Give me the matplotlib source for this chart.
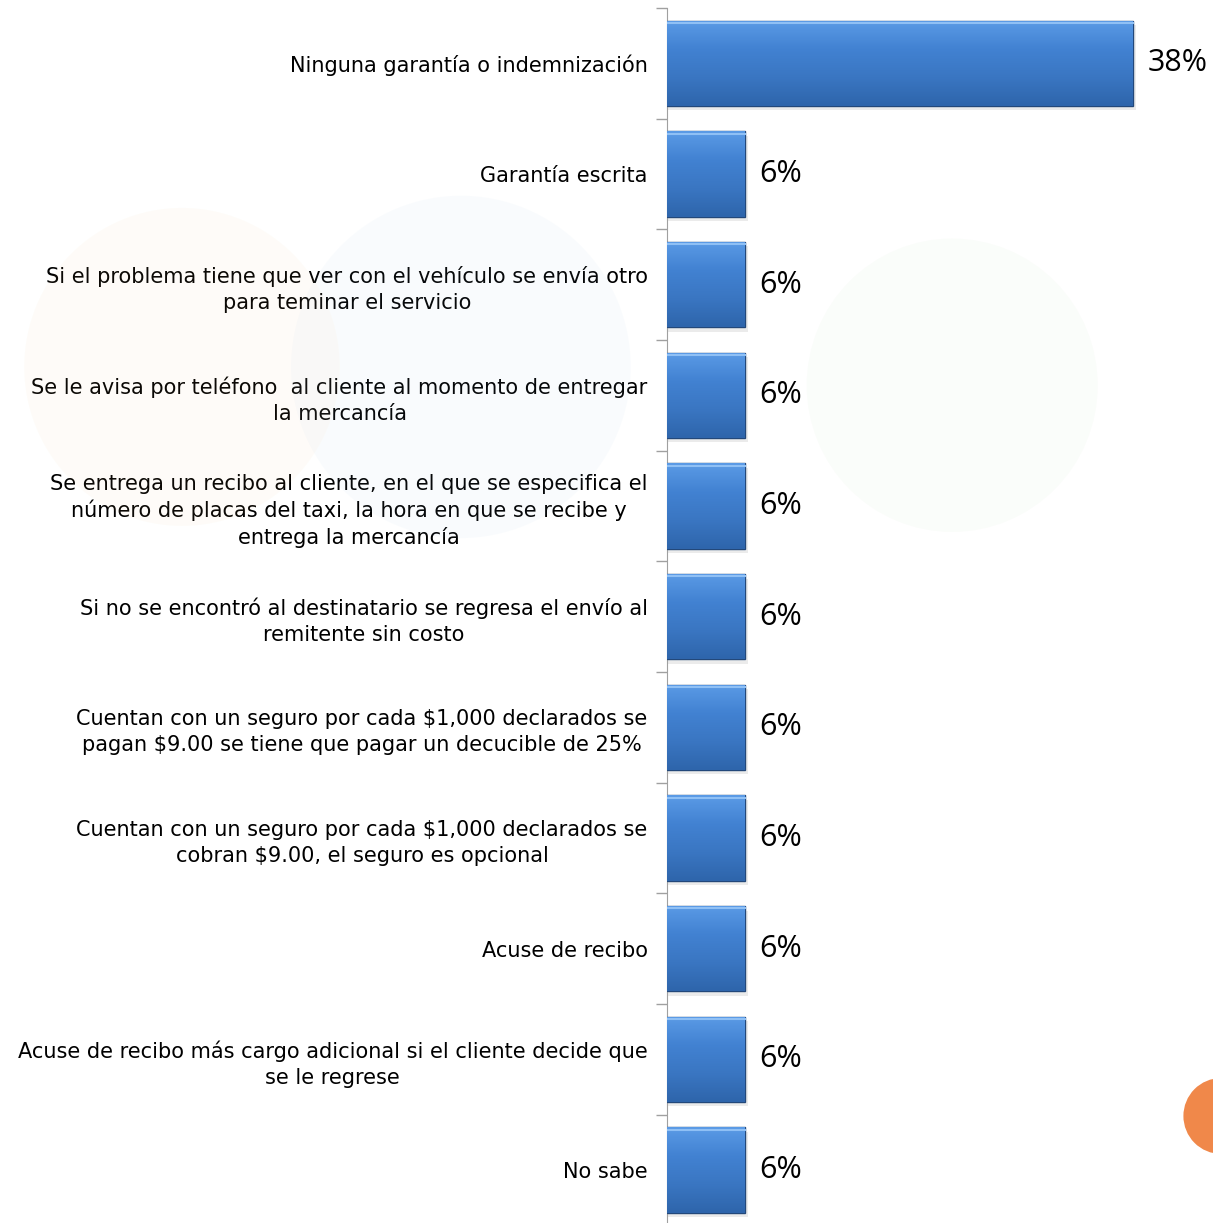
import numpy as np
import matplotlib.pyplot as plt
from matplotlib.patches import Circle
from matplotlib.colors import LinearSegmentedColormap

categorias = [
    "Ninguna garantía o indemnización",
    "Garantía escrita",
    "Si el problema tiene que ver con el vehículo se envía otro\npara teminar el servicio",
    "Se le avisa por teléfono  al cliente al momento de entregar\nla mercancía",
    "Se entrega un recibo al cliente, en el que se especifica el\nnúmero de placas del taxi, la hora en que se recibe y\nentrega la mercancía",
    "Si no se encontró al destinatario se regresa el envío al\nremitente sin costo",
    "Cuentan con un seguro por cada \\$1,000 declarados se\npagan \\$9.00 se tiene que pagar un decucible de 25%",
    "Cuentan con un seguro por cada \\$1,000 declarados se\ncobran \\$9.00, el seguro es opcional",
    "Acuse de recibo",
    "Acuse de recibo más cargo adicional si el cliente decide que\nse le regrese",
    "No sabe",
]
valores = [37.5, 6.25, 6.25, 6.25, 6.25, 6.25, 6.25, 6.25, 6.25, 6.25, 6.25]
etiquetas = ["38%", "6%", "6%", "6%", "6%", "6%", "6%", "6%", "6%", "6%", "6%"]

fig = plt.figure(figsize=(12.13, 12.23), dpi=100)

# very faint watermark in the background
for (cx, cy, r, c, a) in [(0.15, 0.70, 0.13, '#f5c27a', 0.05),
                          (0.38, 0.70, 0.14, '#9cc3e6', 0.05),
                          (0.785, 0.685, 0.12, '#b9dfb0', 0.06)]:
    fig.patches.append(Circle((cx, cy), r, transform=fig.transFigure,
                              facecolor=c, edgecolor='none', alpha=a, zorder=0))
fig.patches.append(Circle((1.0066, 0.0875), 0.031, transform=fig.transFigure,
                          facecolor='#f0884a', edgecolor='none', zorder=0))

ax = fig.add_axes([0.55, -0.002, 0.45, 0.9955])
ax.patch.set_alpha(0)

y = np.arange(len(categorias))
bars = ax.barh(y, valores, height=0.77, color='#3a76c2', edgecolor='#23487a',
               linewidth=1.0, zorder=3)

# gradient fill + bevel look
grad = np.linspace(0, 1, 256).reshape(-1, 1)
cmap = LinearSegmentedColormap.from_list('b', ['#5b9be6', '#4282d2', '#3a76c2', '#2e65ab'])
for b in bars:
    x0, y0 = b.get_x(), b.get_y()
    w, h = b.get_width(), b.get_height()
    im = ax.imshow(grad, extent=[x0, x0 + w, y0 + h, y0], cmap=cmap,
                   aspect='auto', zorder=3.5)
    im.set_clip_path(b)
    # shadow
    ax.barh(b.get_y() + h / 2 + 0.04, w + 0.25, height=h, left=x0,
            color='#000000', alpha=0.08, zorder=2)
    ax.plot([x0, x0 + w], [y0 + 0.02, y0 + 0.02], color='#8fc0f5', lw=1.5, zorder=4)

for yi, v, t in zip(y, valores, etiquetas):
    ax.text(v + 1.2, yi, t, va='center', ha='left', fontsize=22,
            family='Open Sans', color='black')

ax.set_xlim(0, 43.95)
ax.set_ylim(len(categorias) - 0.5, -0.5)
ax.set_yticks(y)
ax.set_yticklabels(categorias, fontsize=15, color='black',
                   multialignment='center', linespacing=1.35)
ax.set_yticks(np.arange(-0.5, len(categorias)), minor=True)
ax.tick_params(axis='y', which='major', length=0, pad=14)
ax.tick_params(axis='y', which='minor', length=8, color='#a0a0a0', width=1)
ax.set_xticks([])
for s in ['top', 'right', 'bottom']:
    ax.spines[s].set_visible(False)
ax.spines['left'].set_color('#a0a0a0')

fig.savefig('out.png', dpi=100)
